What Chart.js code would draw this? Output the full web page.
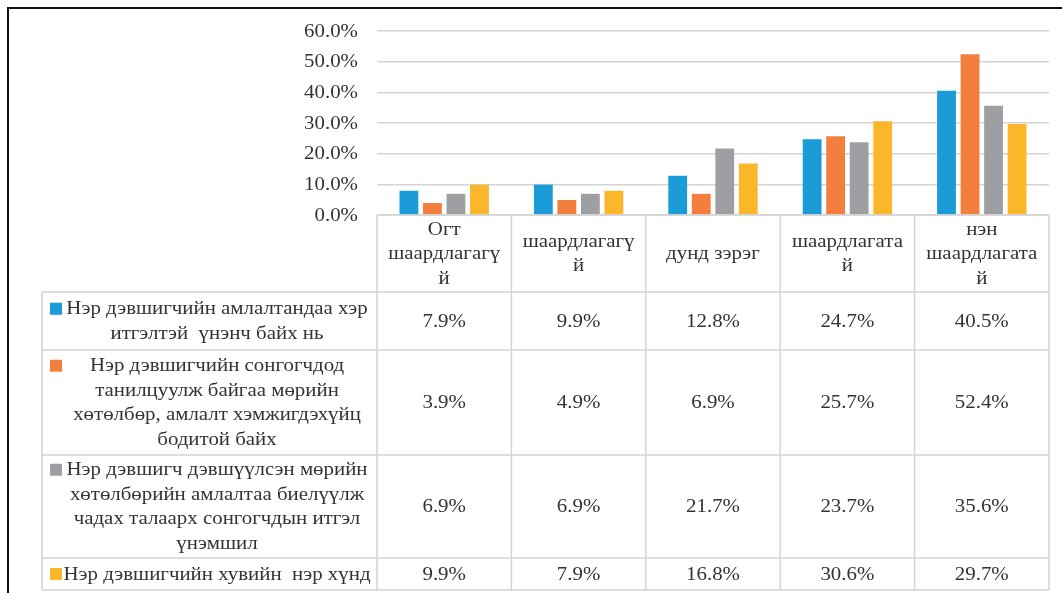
<!DOCTYPE html>
<html>
<head>
<meta charset="utf-8">
<script src="https://cdn.jsdelivr.net/npm/chart.js@4.4.0/dist/chart.umd.min.js"></script>
<style>
  html, body { margin: 0; padding: 0; background: #fff; }
  #wrap { width: 1062px; height: 593px; position: relative; }
</style>
</head>
<body>
<div id="wrap"><canvas id="chart" width="1062" height="593"></canvas></div>
<script>
// categories (shown in the table header, split into lines as in the picture)
const categories = ['Огт шаардлагагүй', 'шаардлагагүй', 'дунд зэрэг', 'шаардлагатай', 'нэн шаардлагатай'];
const categoryLines = [
    ['Огт', 'шаардлагагү', 'й'],
    ['шаардлагагү', 'й'],
    ['дунд зэрэг'],
    ['шаардлагата', 'й'],
    ['нэн', 'шаардлагата', 'й'],
];

// series names
const seriesNames = [
    'Нэр дэвшигчийн амлалтандаа хэр итгэлтэй үнэнч байх нь',
    'Нэр дэвшигчийн сонгогчдод танилцуулж байгаа мөрийн хөтөлбөр, амлалт хэмжигдэхүйц бодитой байх',
    'Нэр дэвшигч дэвшүүлсэн мөрийн хөтөлбөрийн амлалтаа биелүүлж чадах талаарх сонгогчдын итгэл үнэмшил',
    'Нэр дэвшигчийн хувийн нэр хүнд',
];
const seriesLines = [
    ['Нэр дэвшигчийн амлалтандаа хэр', 'итгэлтэй  үнэнч байх нь'],
    ['Нэр дэвшигчийн сонгогчдод', 'танилцуулж байгаа мөрийн', 'хөтөлбөр, амлалт хэмжигдэхүйц', 'бодитой байх'],
    ['Нэр дэвшигч дэвшүүлсэн мөрийн', 'хөтөлбөрийн амлалтаа биелүүлж', 'чадах талаарх сонгогчдын итгэл', 'үнэмшил'],
    ['Нэр дэвшигчийн хувийн  нэр хүнд'],
];

// values, percent
const trustworthy = [7.9, 9.9, 12.8, 24.7, 40.5];
const realistic   = [3.9, 4.9, 6.9, 25.7, 52.4];
const capability  = [6.9, 6.9, 21.7, 23.7, 35.6];
const reputation  = [9.9, 7.9, 16.8, 30.6, 29.7];

// y axis ticks
const yTicks = [0, 10, 20, 30, 40, 50, 60];

const colors = ['#1b9bd7', '#f47e3d', '#9d9fa2', '#fbb62a'];
const allSeries = [trustworthy, realistic, capability, reputation];

const fontFamily = '"Liberation Serif", "Times New Roman", serif';
const textColor = '#333333';
const lineColor = '#d4d4d4';
const stretch = 1.16; // the source font is drawn wide

function wideText(ctx, t, x, y, align) {
    ctx.save();
    ctx.translate(x, y);
    ctx.scale(stretch, 1);
    ctx.textAlign = align || 'center';
    ctx.fillText(t, 0, 0);
    ctx.restore();
}

// frame, y labels and the data table under the plot
const tablePlugin = {
    id: 'dataTable',
    beforeDraw(chart) {
        const ctx = chart.ctx;
        ctx.save();
        ctx.fillStyle = '#fff';
        ctx.fillRect(0, 0, chart.width, chart.height);
        ctx.strokeStyle = '#111';
        ctx.lineWidth = 2;
        ctx.beginPath();
        ctx.moveTo(8, chart.height);
        ctx.lineTo(8, 8);
        ctx.lineTo(chart.width, 8);
        ctx.stroke();
        ctx.restore();
    },
    afterDraw(chart) {
        const ctx = chart.ctx;
        const area = chart.chartArea;
        const x = chart.scales.x;
        const y = chart.scales.y;
        const n = categories.length;
        const colW = (area.right - area.left) / n;
        const legendLeft = 42;
        const headerH = 77;
        const rowH = [58, 105, 103, 32];
        const lineH = 24.5;

        const top = area.bottom;
        const rowTops = [top + headerH];
        rowH.forEach((h, i) => rowTops.push(rowTops[i] + h));
        const bottom = rowTops[rowTops.length - 1];

        ctx.save();
        ctx.fillStyle = textColor;
        ctx.font = '18px ' + fontFamily;
        ctx.textBaseline = 'middle';

        // y tick labels
        yTicks.forEach(v => {
            wideText(ctx, v.toFixed(1) + '%', area.left - 19, y.getPixelForValue(v) + 1, 'right');
        });

        ctx.strokeStyle = lineColor;
        ctx.lineWidth = 1.5;
        ctx.beginPath();
        ctx.moveTo(area.left, top); ctx.lineTo(area.right, top);
        rowTops.forEach(yy => { ctx.moveTo(legendLeft, yy); ctx.lineTo(area.right, yy); });
        for (let i = 0; i <= n; i++) {
            const xx = area.left + i * colW;
            ctx.moveTo(xx, top); ctx.lineTo(xx, bottom);
        }
        ctx.moveTo(legendLeft, rowTops[0]); ctx.lineTo(legendLeft, bottom);
        ctx.stroke();

        // header
        categoryLines.forEach((lines, i) => {
            const cx = x.getPixelForValue(i);
            const cy = top + headerH / 2 + 1;
            lines.forEach((t, k) => {
                wideText(ctx, t, cx, cy + (k - (lines.length - 1) / 2) * lineH);
            });
        });

        // rows
        allSeries.forEach((vals, s) => {
            const cy = rowTops[s] + rowH[s] / 2 + 1;
            const lines = seriesLines[s];
            ctx.fillStyle = textColor;
            lines.forEach((t, k) => {
                wideText(ctx, t, 217, cy + (k - (lines.length - 1) / 2) * lineH);
            });
            const firstY = cy - (lines.length - 1) / 2 * lineH;
            ctx.fillStyle = colors[s];
            ctx.fillRect(50, firstY - 7, 12, 12);
            ctx.fillStyle = textColor;
            vals.forEach((v, i) => {
                wideText(ctx, v.toFixed(1) + '%', x.getPixelForValue(i), cy);
            });
        });
        ctx.restore();
    }
};

new Chart(document.getElementById('chart'), {
    type: 'bar',
    data: {
        labels: categories,
        datasets: allSeries.map((vals, i) => ({
            label: seriesNames[i],
            data: vals,
            backgroundColor: colors[i],
            borderWidth: 0,
            barPercentage: 0.8,
            categoryPercentage: 0.7,
        })),
    },
    options: {
        responsive: false,
        animation: false,
        layout: { padding: { left: 0, top: 31, right: 13, bottom: 378 } },
        plugins: { legend: { display: false }, tooltip: { enabled: false } },
        scales: {
            x: { display: false },
            y: {
                min: 0,
                max: 60,
                afterFit(scale) { scale.width = 377; },
                afterBuildTicks(scale) { scale.ticks = yTicks.map(v => ({ value: v })); },
                border: { display: false },
                grid: { color: lineColor, lineWidth: 1.5, drawTicks: false },
                ticks: { display: false },
            },
        },
    },
    plugins: [tablePlugin],
});
</script>
</body>
</html>
